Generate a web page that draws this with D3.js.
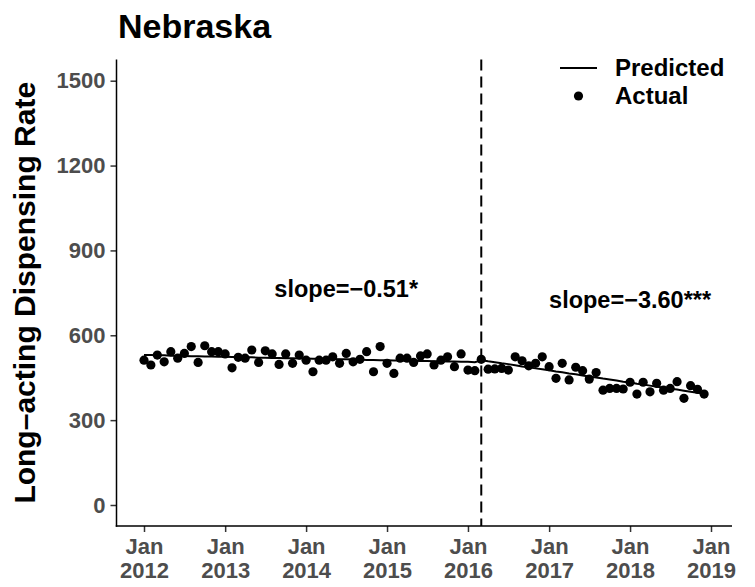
<!DOCTYPE html>
<html>
<head>
<meta charset="utf-8">
<script src="https://cdn.jsdelivr.net/npm/d3@7"></script>
<style>
  html, body { margin: 0; padding: 0; background: #fff; }
  svg { display: block; font-family: "Liberation Sans", Arial, sans-serif; }
</style>
</head>
<body>
<svg id="chart" width="755" height="587"></svg>
<script>
// ---- data ----
const stateName = "Nebraska";
const startMonth = new Date(2012, 0, 1);
const endMonth = new Date(2019, 0, 1);
const interventionMonth = new Date(2016, 2, 1);
const actual = [
  512, 495, 530, 506, 542, 519, 536, 560, 504, 563,
  542, 542, 534, 485, 522, 519, 548, 504, 545, 534,
  497, 534, 501, 530, 512, 471, 512, 512, 524, 501,
  536, 506, 515, 542, 471, 560, 501, 465, 519, 519,
  504, 527, 534, 495, 512, 524, 489, 534, 477, 475,
  515, 480, 481, 483, 477, 524, 510, 492, 501, 524,
  489, 448, 501, 442, 487, 475, 445, 468, 406, 412,
  412, 410, 434, 392, 434, 400, 430, 406, 412, 436,
  377, 422, 409, 392
];
const predicted = [
  530, 530, 529, 529, 528, 528, 527, 526, 526, 525,
  525, 524, 524, 523, 523, 522, 522, 521, 521, 520,
  520, 519, 519, 518, 518, 517, 517, 516, 516, 515,
  515, 514, 514, 513, 513, 512, 512, 511, 511, 510,
  510, 509, 509, 508, 508, 507, 507, 506, 506, 505,
  512, 508, 505, 501, 498, 494, 490, 487, 483, 480,
  476, 472, 469, 465, 462, 458, 454, 451, 447, 444,
  440, 436, 433, 429, 426, 422, 418, 415, 411, 408,
  404, 400, 397, 393
];
const yTicks = [0, 300, 600, 900, 1200, 1500];
const xTickYears = [2012, 2013, 2014, 2015, 2016, 2017, 2018, 2019];
const slopeLabels = [
  { text: "slope=\u22120.51*", date: new Date(2014, 6, 1), value: 735 },
  { text: "slope=\u22123.60***", date: new Date(2018, 0, 1), value: 696 }
];
const legendItems = ["Predicted", "Actual"];

const months = d3.timeMonth.range(startMonth, endMonth);
const rows = months.map((d, i) => ({ date: d, actual: actual[i], predicted: predicted[i] }));

// ---- scales ----
const panel = { left: 116.5, right: 732, top: 59.5, bottom: 526 };
const x = d3.scaleTime().domain([startMonth, endMonth]).range([144, 711]);
const y = d3.scaleLinear().domain([0, 1500]).range([505, 80.7]);

const svg = d3.select("#chart");
const tickGrey = "#4D4D4D";

// title
svg.append("text").attr("x", 118).attr("y", 38)
  .attr("font-size", 34).attr("font-weight", "bold").attr("fill", "#000")
  .text(stateName);

// y axis title
svg.append("text")
  .attr("transform", `translate(35,${(panel.top + panel.bottom) / 2}) rotate(-90)`)
  .attr("text-anchor", "middle").attr("font-size", 30).attr("font-weight", "bold")
  .text("Long\u2013acting Dispensing Rate");

// y axis
const yAxis = d3.axisLeft(y).tickValues(yTicks).tickSize(6).tickPadding(5).tickFormat(d3.format("d"));
const gy = svg.append("g").attr("transform", `translate(${panel.left},0)`).call(yAxis);
gy.select(".domain").remove();
gy.selectAll(".tick line").attr("stroke", "#333").attr("stroke-width", 1.5);
gy.selectAll(".tick text").attr("font-size", 22).attr("font-weight", "bold")
  .attr("fill", tickGrey).attr("font-family", "Liberation Sans, Arial, sans-serif");

// x axis
const xTickDates = xTickYears.map(yr => new Date(yr, 0, 1));
const xAxis = d3.axisBottom(x).tickValues(xTickDates).tickSize(6).tickFormat(() => "");
const gx = svg.append("g").attr("transform", `translate(0,${panel.bottom})`).call(xAxis);
gx.select(".domain").remove();
gx.selectAll(".tick line").attr("stroke", "#333").attr("stroke-width", 1.5);
gx.selectAll(".tick").each(function(d) {
  const t = d3.select(this).append("text")
    .attr("text-anchor", "middle").attr("font-size", 22).attr("font-weight", "bold")
    .attr("fill", tickGrey).attr("font-family", "Liberation Sans, Arial, sans-serif");
  t.append("tspan").attr("x", 0).attr("y", 28).text("Jan");
  t.append("tspan").attr("x", 0).attr("y", 52).text(d.getFullYear());
});

// axis lines
svg.append("line").attr("x1", panel.left).attr("x2", panel.left)
  .attr("y1", panel.top).attr("y2", panel.bottom + 0.75)
  .attr("stroke", "#000").attr("stroke-width", 1.5);
svg.append("line").attr("x1", panel.left - 0.75).attr("x2", panel.right)
  .attr("y1", panel.bottom).attr("y2", panel.bottom)
  .attr("stroke", "#000").attr("stroke-width", 1.5);

// intervention line
svg.append("line")
  .attr("x1", x(interventionMonth)).attr("x2", x(interventionMonth))
  .attr("y1", panel.top).attr("y2", panel.bottom)
  .attr("stroke", "#000").attr("stroke-width", 2).attr("stroke-dasharray", "11,6");

// predicted line
svg.append("path").datum(rows)
  .attr("fill", "none").attr("stroke", "#000").attr("stroke-width", 2)
  .attr("d", d3.line().x(d => x(d.date)).y(d => y(d.predicted)));

// actual points
svg.append("g").selectAll("circle").data(rows).join("circle")
  .attr("cx", d => x(d.date)).attr("cy", d => y(d.actual)).attr("r", 4.6)
  .attr("fill", "#000");

// slope annotations
svg.append("g").selectAll("text").data(slopeLabels).join("text")
  .attr("x", d => x(d.date)).attr("y", d => y(d.value))
  .attr("font-size", 23.5).attr("font-weight", "bold").attr("text-anchor", "middle")
  .text(d => d.text);

// legend
const lg = svg.append("g");
lg.append("line").attr("x1", 560).attr("x2", 597).attr("y1", 68).attr("y2", 68)
  .attr("stroke", "#000").attr("stroke-width", 2);
lg.append("circle").attr("cx", 578.5).attr("cy", 96).attr("r", 4.6).attr("fill", "#000");
lg.selectAll("text").data(legendItems).join("text")
  .attr("x", 615).attr("y", (d, i) => 76 + i * 28)
  .attr("font-size", 24).attr("font-weight", "bold").text(d => d);
</script>
</body>
</html>
